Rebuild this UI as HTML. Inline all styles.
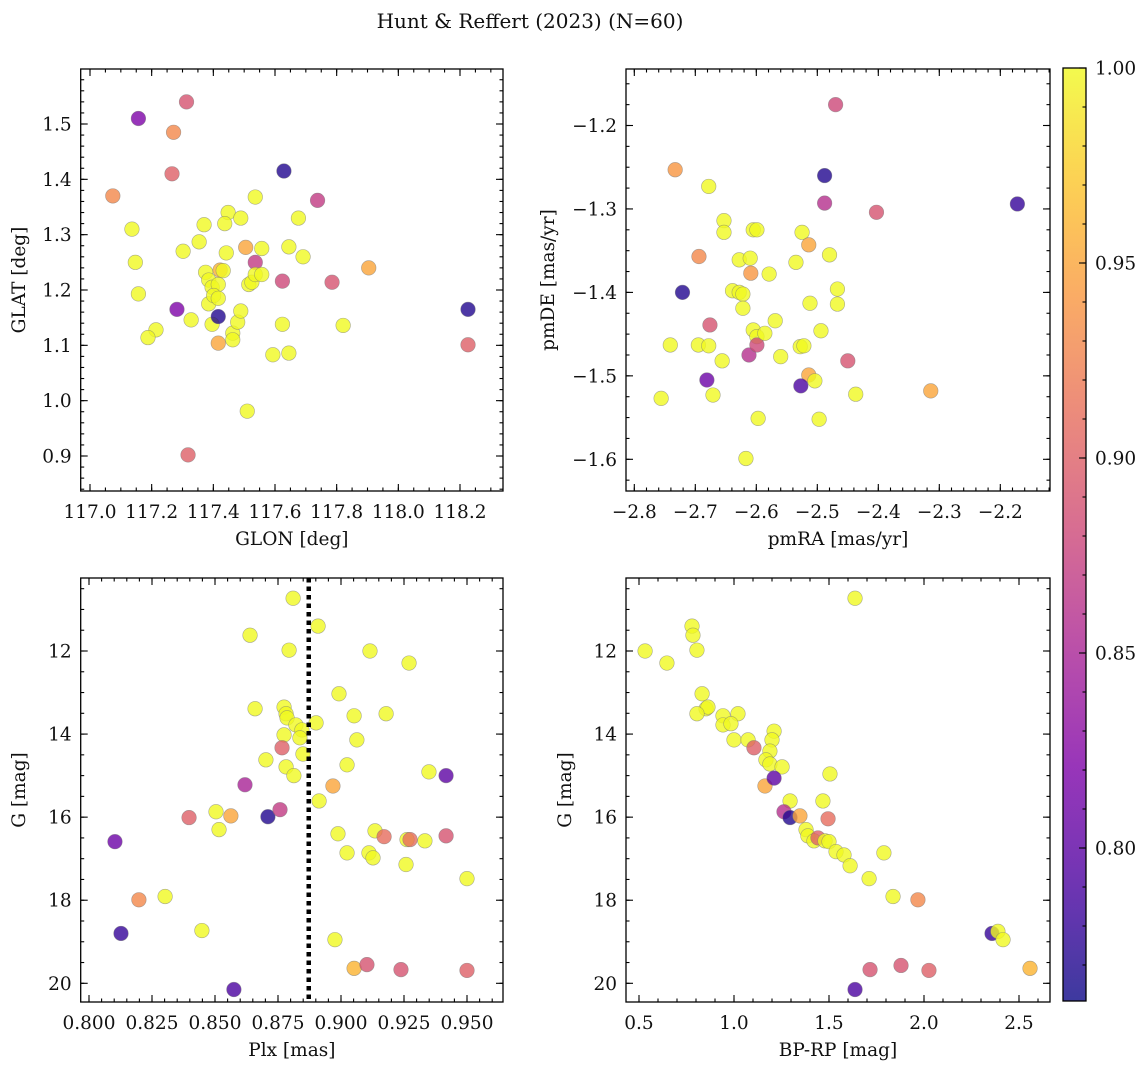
<!DOCTYPE html>
<html><head><meta charset="utf-8"><style>
html,body{margin:0;padding:0;background:#fff;}
svg{display:block;font-family:"DejaVu Serif","Liberation Serif",serif;}
</style></head><body>
<svg id="fig" width="1148" height="1068" viewBox="0 0 1148 1068" xmlns="http://www.w3.org/2000/svg">
<text x="530" y="28" text-anchor="middle" font-size="20" fill="#111">Hunt &amp; Reffert (2023) (N=60)</text>
</svg>
<script>
// ---- Panel 1 data: GLON / GLAT ----
const glon=[117.157,117.313,117.271,117.266,117.074,117.629,117.738,117.136,117.147,117.157,117.302,117.370,117.448,117.437,117.489,117.536,117.676,117.645,117.691,117.557,117.505,117.536,117.354,117.375,117.385,117.396,117.416,117.422,117.432,117.442,117.385,117.401,117.416,117.396,117.463,117.463,117.479,117.489,117.515,117.525,117.536,117.557,117.624,117.645,117.593,117.821,117.416,117.282,117.416,117.328,117.214,117.188,117.510,117.318,117.624,117.785,117.904,118.226,118.226];
const glat=[1.51,1.54,1.485,1.41,1.37,1.415,1.362,1.31,1.25,1.193,1.27,1.318,1.34,1.32,1.33,1.368,1.33,1.278,1.26,1.275,1.277,1.25,1.287,1.232,1.218,1.205,1.21,1.236,1.235,1.267,1.175,1.19,1.185,1.138,1.122,1.11,1.142,1.162,1.21,1.214,1.228,1.228,1.138,1.086,1.083,1.136,1.104,1.165,1.152,1.146,1.128,1.114,0.981,0.902,1.216,1.214,1.24,1.165,1.101];
const prob1=[0.82,0.89,0.93,0.90,0.93,0.77,0.87,1,1,1,1,1,1,1,1,1,1,1,1,1,0.95,0.87,1,1,1,1,1,0.96,1,1,1,1,1,1,1,1,1,1,1,1,1,1,1,1,1,1,0.95,0.82,0.77,1,1,1,1,0.90,0.88,0.89,0.95,0.77,0.90];
// ---- Panel 2 data: pmRA / pmDE ----
const pmra=[-2.470,-2.733,-2.488,-2.678,-2.488,-2.403,-2.172,-2.525,-2.653,-2.653,-2.605,-2.599,-2.514,-2.694,-2.480,-2.628,-2.610,-2.579,-2.535,-2.639,-2.628,-2.622,-2.721,-2.609,-2.467,-2.467,-2.512,-2.569,-2.622,-2.605,-2.599,-2.676,-2.612,-2.599,-2.741,-2.695,-2.678,-2.656,-2.560,-2.528,-2.522,-2.494,-2.450,-2.514,-2.504,-2.681,-2.527,-2.671,-2.756,-2.437,-2.314,-2.597,-2.497,-2.617,-2.586];
const pmde=[-1.175,-1.253,-1.260,-1.273,-1.293,-1.304,-1.294,-1.328,-1.314,-1.328,-1.325,-1.325,-1.343,-1.357,-1.355,-1.361,-1.359,-1.378,-1.364,-1.398,-1.400,-1.402,-1.400,-1.377,-1.396,-1.414,-1.413,-1.434,-1.419,-1.445,-1.453,-1.439,-1.475,-1.463,-1.463,-1.463,-1.464,-1.482,-1.477,-1.465,-1.464,-1.446,-1.482,-1.499,-1.506,-1.505,-1.512,-1.523,-1.527,-1.522,-1.518,-1.551,-1.552,-1.599,-1.449];
const prob2=[0.88,0.94,0.77,1,0.86,0.89,0.78,1,1,1,1,1,0.95,0.93,1,1,1,1,1,1,1,1,0.77,0.94,1,1,1,1,1,1,1,0.89,0.86,0.88,1,1,1,1,1,1,1,1,0.89,0.95,1,0.81,0.79,1,1,1,0.95,1,1,1,1];
// ---- Panel 3 data: Plx / G ----
const plx=[0.8810,0.8909,0.8639,0.8794,0.9115,0.9270,0.8992,0.8659,0.8774,0.8782,0.8786,0.8821,0.8845,0.8837,0.8901,0.8774,0.8766,0.8849,0.8702,0.8782,0.8813,0.9052,0.9179,0.9063,0.8619,0.9024,0.8913,0.8968,0.9417,0.9349,0.8103,0.8397,0.8504,0.8516,0.8563,0.8710,0.8758,0.8988,0.9024,0.9111,0.9127,0.9135,0.9262,0.9333,0.9258,0.9500,0.9171,0.9274,0.9417,0.8198,0.8302,0.8448,0.8127,0.8976,0.9052,0.9103,0.9238,0.9500,0.8575];
const gmag3=[10.73,11.40,11.62,11.98,12.0,12.29,13.03,13.39,13.35,13.51,13.61,13.78,13.90,14.09,13.73,14.02,14.33,14.48,14.62,14.79,15.00,13.56,13.51,14.14,15.22,14.74,15.61,15.25,15.00,14.91,16.59,16.01,15.87,16.30,15.97,15.99,15.82,16.40,16.86,16.86,16.98,16.33,16.54,16.57,17.14,17.48,16.47,16.54,16.45,17.99,17.91,18.73,18.80,18.95,19.64,19.55,19.67,19.69,20.15];
const prob3=[1,1,1,1,1,1,1,1,1,1,1,1,1,1,1,1,0.90,1,1,1,1,1,1,1,0.85,1,1,0.95,0.80,1,0.81,0.90,1,1,0.95,0.77,0.87,1,1,1,1,1,1,1,1,1,0.91,0.91,0.89,0.93,1,1,0.78,1,0.96,0.89,0.89,0.90,0.79];
// ---- Panel 4 data: BP-RP / G ----
const bprp=[1.637,0.779,0.784,0.805,0.532,0.647,0.832,0.853,0.863,0.805,0.942,0.942,1.021,0.984,1.0,1.074,1.211,1.2,1.189,1.105,1.168,1.189,1.253,1.163,1.211,1.505,1.295,1.263,1.295,1.468,1.347,1.495,1.379,1.389,1.421,1.442,1.479,1.5,1.537,1.579,1.611,1.711,1.789,1.837,1.968,2.358,2.389,2.416,2.558,1.716,1.879,2.026,1.637];
const gmag4=[10.73,11.40,11.62,11.98,12.0,12.29,13.03,13.39,13.35,13.51,13.56,13.78,13.51,13.75,14.14,14.14,13.93,14.14,14.41,14.33,14.62,14.72,14.79,15.25,15.06,14.96,15.61,15.87,16.01,15.61,15.97,16.04,16.30,16.45,16.57,16.50,16.57,16.59,16.83,16.91,17.17,17.48,16.86,17.91,17.99,18.80,18.75,18.95,19.64,19.67,19.57,19.69,20.15];
const prob4=[1,1,1,1,1,1,1,1,1,1,1,1,1,1,1,1,1,1,1,0.90,1,1,1,0.95,0.80,1,1,0.86,0.77,1,0.95,0.91,1,1,1,0.90,1,1,1,1,1,1,1,1,0.93,0.78,1,1,0.96,0.89,0.89,0.90,0.79];
// ---- Colorbar ticks ----
const cbarTicks=[0.80,0.85,0.90,0.95,1.00];
const cbarLabels=["0.80","0.85","0.90","0.95","1.00"];

const NS="http://www.w3.org/2000/svg";
const svg=document.getElementById('fig');
const FS=18.5;
function mk(tag,attrs,parent){const e=document.createElementNS(NS,tag);for(const k in attrs)e.setAttribute(k,attrs[k]);(parent||svg).appendChild(e);return e;}
const VMIN=0.7608,VMAX=1.0;
const stops=[[13,8,135],[76,2,161],[126,3,168],[169,35,149],[204,71,120],[230,108,92],[248,149,64],[253,195,40],[240,249,33]];
function plasma(t){t=Math.max(0,Math.min(1,t));const s=t*8;const i=Math.min(7,Math.floor(s));const f=s-i;const a=stops[i],b=stops[i+1];
 return 'rgb('+[0,1,2].map(k=>Math.round(a[k]+(b[k]-a[k])*f)).join(',')+')';}
function colorOf(p){return plasma((p-VMIN)/(VMAX-VMIN));}
function lin(d0,p0,d1,p1){const f=v=>p0+(v-d0)*(p1-p0)/(d1-d0);f.inv=p=>d0+(p-p0)*(d1-d0)/(p1-p0);return f;}
function fmt(v,dec){const s=Math.abs(v).toFixed(dec);return (v<-1e-9?'\u2212':'')+s;}

function panel(o){
 const g=mk('g',{});
 
 
 const {L,R,T,B}=o;
 const sx=o.sx, sy=o.sy;
 const pg=mk('g',{},g);
 
 
 for(let i=0;i<o.xs.length;i++){
  const c=mk('circle',{cx:sx(o.xs[i]),cy:sy(o.ys[i]),r:7.3,fill:colorOf(o.ps[i]),'fill-opacity':0.8,stroke:'#777','stroke-opacity':0.6,'stroke-width':0.6},pg);
  
  
 }
 if(o.extra)o.extra(g);
 const fr=mk('rect',{x:L,y:T,width:R-L,height:B-T,fill:'none',stroke:'#000','stroke-width':1.3},g);
 
 
 const tk=mk('g',{stroke:'#000','stroke-width':1.1},g);
 
 
 const dx0=Math.min(sx.inv(L),sx.inv(R)),dx1=Math.max(sx.inv(L),sx.inv(R));
 for(let d=Math.ceil(dx0/o.xmin-1e-6)*o.xmin;d<=dx1+1e-9;d+=o.xmin){const px=sx(d);if(px<L+0.5||px>R-0.5)continue;
  mk('line',{x1:px,y1:B,x2:px,y2:B-3.5},tk);mk('line',{x1:px,y1:T,x2:px,y2:T+3.5},tk);}
 const dy0=Math.min(sy.inv(T),sy.inv(B)),dy1=Math.max(sy.inv(T),sy.inv(B));
 for(let d=Math.ceil(dy0/o.ymin-1e-6)*o.ymin;d<=dy1+1e-9;d+=o.ymin){const py=sy(d);if(py<T+0.5||py>B-0.5)continue;
  mk('line',{x1:L,y1:py,x2:L+3.5,y2:py},tk);mk('line',{x1:R,y1:py,x2:R-3.5,y2:py},tk);}
 o.xt.forEach(d=>{const px=sx(d);mk('line',{x1:px,y1:B,x2:px,y2:B-7},tk);mk('line',{x1:px,y1:T,x2:px,y2:T+7},tk);
  const t=mk('text',{x:px,y:B+27,'text-anchor':'middle','font-size':FS,fill:'#111'},g);t.textContent=fmt(d,o.xdec);
  
  });
 o.yt.forEach(d=>{const py=sy(d);mk('line',{x1:L,y1:py,x2:L+7,y2:py},tk);mk('line',{x1:R,y1:py,x2:R-7,y2:py},tk);
  const t=mk('text',{x:L-9,y:py+6.5,'text-anchor':'end','font-size':FS,fill:'#111'},g);t.textContent=fmt(d,o.ydec);
  
  });
 const xl=mk('text',{x:(L+R)/2,y:B+54,'text-anchor':'middle','font-size':FS,fill:'#111'},g);xl.textContent=o.xlabel;
 
 
 const yx=o.ylx, yy=(T+B)/2;
 const yl=mk('text',{x:yx,y:yy,'text-anchor':'middle','font-size':FS,fill:'#111',transform:`rotate(-90 ${yx} ${yy})`},g);yl.textContent=o.ylabel;
 
 
}
function rng(a,b,s){const r=[];for(let v=a;v<=b+1e-9;v+=s)r.push(+v.toFixed(6));return r;}

panel({name:'panel-glon-glat',L:80.7,R:503,T:69,B:491,sx:lin(117.0,90,118.2,460),sy:lin(1.5,124,0.9,456),
 xs:glon,ys:glat,ps:prob1,xt:rng(117.0,118.2,0.2),yt:rng(0.9,1.5,0.1),xmin:0.05,ymin:0.02,xdec:1,ydec:1,
 xlabel:'GLON [deg]',ylabel:'GLAT [deg]',ylx:25});
panel({name:'panel-pmra-pmde',L:626,R:1050,T:69,B:491,sx:lin(-2.8,634.3,-2.2,1000.3),sy:lin(-1.2,125.5,-1.6,459.3),
 xs:pmra,ys:pmde,ps:prob2,xt:rng(-2.8,-2.2,0.1),yt:rng(-1.6,-1.2,0.1),xmin:0.02,ymin:0.025,xdec:1,ydec:1,
 xlabel:'pmRA [mas/yr]',ylabel:'pmDE [mas/yr]',ylx:554});
const PLX_REF=0.8872;
panel({name:'panel-plx-g',L:80.7,R:503,T:578,B:1002,sx:lin(0.8,89,0.95,467),sy:lin(12,651,20,983.3),
 xs:plx,ys:gmag3,ps:prob3,xt:rng(0.8,0.95,0.025),yt:rng(12,20,2),xmin:0.005,ymin:0.5,xdec:3,ydec:0,
 xlabel:'Plx [mas]',ylabel:'G [mag]',ylx:25,
 extra:(g)=>{const sx=lin(0.8,89,0.95,467);const l=mk('line',{x1:sx(PLX_REF),x2:sx(PLX_REF),y1:578,y2:1002,stroke:'#000','stroke-width':4.5,'stroke-dasharray':'4.5 4'},g);
  
  }});
panel({name:'panel-bprp-g',L:626,R:1050,T:578,B:1002,sx:lin(0.5,639,2.5,1019),sy:lin(12,651,20,983.3),
 xs:bprp,ys:gmag4,ps:prob4,xt:rng(0.5,2.5,0.5),yt:rng(12,20,2),xmin:0.1,ymin:0.5,xdec:1,ydec:0,
 xlabel:'BP-RP [mag]',ylabel:'G [mag]',ylx:571});

(function(){
 const L=1063,R=1086,T=68,B=1001;
 const g=mk('g',{});
 
 
 const defs=mk('defs',{},g);
 const lg=mk('linearGradient',{id:'cg',x1:0,y1:1,x2:0,y2:0},defs);
 for(let i=0;i<=20;i++){mk('stop',{offset:i/20,'stop-color':plasma(i/20),'stop-opacity':0.8},lg);}
 mk('rect',{x:L,y:T,width:R-L,height:B-T,fill:'url(#cg)',stroke:'#000','stroke-width':1.3},g);
 const cy=lin(1.0,T,0.95,263);
 for(let v=0.77;v<=0.995;v+=0.01){mk('line',{x1:R,x2:R-3.5,y1:cy(v),y2:cy(v),stroke:'#000','stroke-width':1.1},g);}
 cbarTicks.forEach((v,i)=>{const y=cy(v);mk('line',{x1:R,x2:R-7,y1:y,y2:y,stroke:'#000','stroke-width':1.1},g);
  const t=mk('text',{x:R+9,y:y+6.5,'font-size':FS,fill:'#111'},g);t.textContent=cbarLabels[i];
  
  });
})();
</script>
</body></html>
